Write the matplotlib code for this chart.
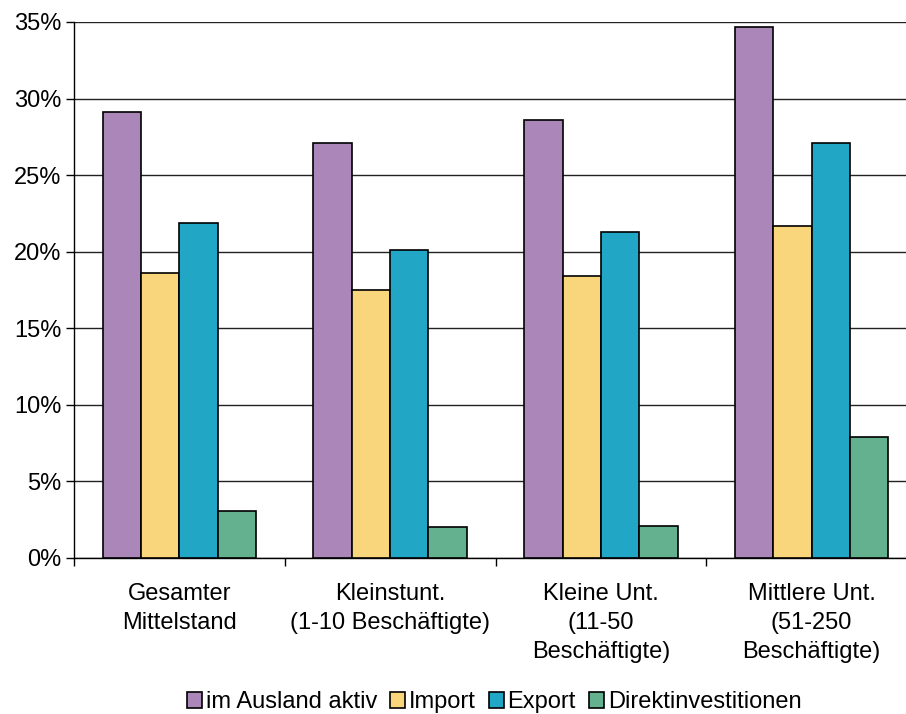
import matplotlib.pyplot as plt
import numpy as np
from matplotlib.ticker import FuncFormatter

plt.rcParams['font.family'] = ['Liberation Sans', 'DejaVu Sans']

categories = ["Gesamter\nMittelstand", "Kleinstunt.\n(1-10 Beschäftigte)",
              "Kleine Unt.\n(11-50\nBeschäftigte)", "Mittlere Unt.\n(51-250\nBeschäftigte)"]
series = ["im Ausland aktiv", "Import", "Export", "Direktinvestitionen"]
ausland = [29.1, 27.1, 28.6, 34.7]
importe = [18.6, 17.5, 18.4, 21.7]
exporte = [21.9, 20.1, 21.3, 27.1]
direkt = [3.1, 2.0, 2.1, 7.9]
colors = ["#ab87b9", "#f9d57b", "#21a6c6", "#63b18f"]

fig = plt.figure(figsize=(9.06, 7.14), dpi=100)
# axes runs slightly past the right edge of the figure
ax = fig.add_axes([74 / 906, 1 - 558 / 714, 843 / 906, 536 / 714])

X = np.arange(len(categories)) + 0.5
w = 0.182
for i, (vals, lab) in enumerate(zip([ausland, importe, exporte, direkt], series)):
    ax.bar(X + (i - 1.5) * w, vals, width=w, color=colors[i], edgecolor="black",
           linewidth=1.2, label=lab, zorder=3)

ax.set_xlim(0, 4)
ax.set_ylim(0, 35)
ax.set_yticks(np.arange(0, 36, 5))
ax.yaxis.set_major_formatter(FuncFormatter(lambda v, p: f"{v:.0f}%"))
ax.yaxis.grid(True, color="#222222", linewidth=1)
ax.set_axisbelow(True)

ax.set_xticks(np.arange(0, 5))
ax.set_xticklabels([])
ax.set_xticks(X, minor=True)
ax.set_xticklabels(categories, minor=True, fontsize=17, linespacing=1.42)
ax.tick_params(axis="x", which="minor", length=0, pad=18)
ax.tick_params(axis="x", which="major", length=6, direction="out", width=1)
ax.tick_params(axis="y", length=6, width=1, labelsize=17, pad=3)

for s in ["top", "right"]:
    ax.spines[s].set_visible(False)
ax.spines["left"].set_linewidth(1)
ax.spines["bottom"].set_linewidth(1)

fig.legend(loc="center", bbox_to_anchor=(494 / 906, 1 - 702 / 714), ncol=4, frameon=False,
           fontsize=17, handlelength=0.65, handleheight=0.65, handletextpad=0.15,
           columnspacing=0.55, borderpad=0)

fig.savefig("out.png", dpi=100)
